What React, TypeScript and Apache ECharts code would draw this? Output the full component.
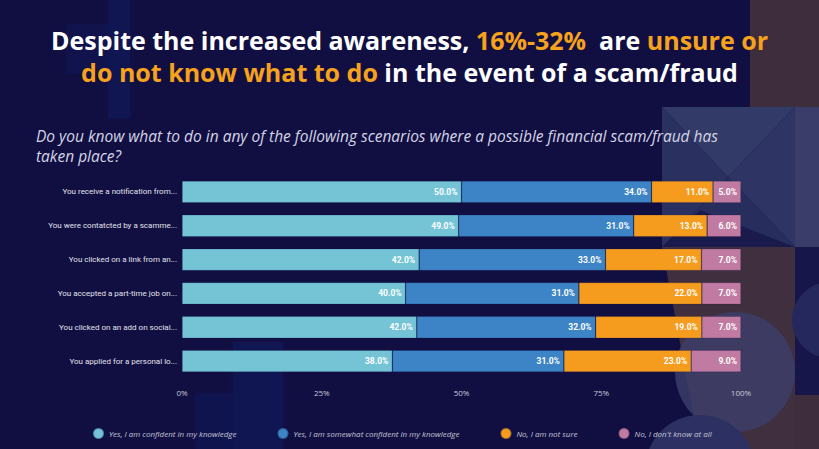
import React, { useEffect, useRef } from "react";
import * as echarts from "echarts";

const categories = [
  "You receive a notification from...",
  "You were contatcted by a scamme...",
  "You clicked on a link from an...",
  "You accepted a part-time job on...",
  "You clicked on an add on social...",
  "You applied for a personal lo...",
];
const seriesNames = [
  "Yes, I am confident in my knowledge",
  "Yes, I am somewhat confident in my knowledge",
  "No, I am not sure",
  "No, I don't know at all",
];
const confident = [50, 49, 42, 40, 42, 38];
const somewhat = [34, 31, 33, 31, 32, 31];
const notSure = [11, 13, 17, 22, 19, 23];
const dontKnow = [5, 6, 7, 7, 7, 9];
const colors = ["#74c4d6", "#3d84c6", "#f59c1e", "#c17ba2"];
const xTicks = [0, 25, 50, 75, 100];

export default function App() {
  const ref = useRef<HTMLDivElement>(null);
  useEffect(() => {
    if (!ref.current) return;
    const chart = echarts.init(ref.current, null, { renderer: "svg" });
    const values = [confident, somewhat, notSure, dontKnow];
    // 100% stacked: each row is scaled to its own total
    const totals = categories.map((_, j) => values.reduce((s, arr) => s + arr[j], 0));
    const series = values.map((v, i) => ({
      name: seriesNames[i],
      type: "bar",
      stack: "total",
      barWidth: 22,
      data: v.map((x, j) => (x / totals[j]) * 100),
      itemStyle: { color: colors[i], borderColor: "rgba(20,20,70,0.35)", borderWidth: 0.6 },
      label: {
        show: true,
        position: "insideRight",
        distance: 4,
        color: "#ffffff",
        fontSize: 8.5,
        fontWeight: "bold",
        fontFamily: "Roboto",
        formatter: (p: any) => values[p.seriesIndex][p.dataIndex].toFixed(1) + "%",
      },
    }));
    const tri = (pts: number[][], fill: string, z = -9) => ({ type: "polygon", z, silent: true, shape: { points: pts }, style: { fill } });
    chart.setOption({
      animation: false,
      backgroundColor: "#110f42",
      color: colors,
      graphic: [
        // faint blue blurred shapes on the left
        { type: "rect", z: -10, silent: true, shape: { x: 108, y: 0, width: 22, height: 118 }, style: { fill: "rgba(35,70,180,0.12)", shadowBlur: 14, shadowColor: "rgba(35,70,180,0.15)" } },
        { type: "rect", z: -10, silent: true, shape: { x: 66, y: 24, width: 42, height: 50 }, style: { fill: "rgba(35,70,180,0.08)", shadowBlur: 14, shadowColor: "rgba(35,70,180,0.1)" } },
        { type: "rect", z: -10, silent: true, shape: { x: 233, y: 342, width: 50, height: 107 }, style: { fill: "rgba(25,60,180,0.13)", shadowBlur: 14, shadowColor: "rgba(25,60,180,0.15)" } },
        { type: "rect", z: -10, silent: true, shape: { x: 195, y: 393, width: 38, height: 56 }, style: { fill: "rgba(25,60,180,0.1)", shadowBlur: 14, shadowColor: "rgba(25,60,180,0.12)" } },
        // right decorative panels
        { type: "rect", z: -10, silent: true, shape: { x: 750, y: 0, width: 69, height: 107 }, style: { fill: "#3e2d3d" } },
        tri([[662, 107], [795, 107], [728, 177]], "#323a68"),
        tri([[662, 107], [728, 177], [662, 247]], "#2a3160"),
        tri([[795, 107], [795, 247], [728, 177]], "#2e3564"),
        tri([[662, 247], [795, 247], [728, 177]], "#272d5c"),
        tri([[700, 210], [795, 247], [662, 247]], "#1a1a4c"),
        { type: "rect", z: -10, silent: true, shape: { x: 795, y: 107, width: 24, height: 140 }, style: { fill: "#3a3d6a" } },
        tri([[662, 247], [795, 247], [795, 449], [700, 449]], "#402f3f", -10),
        { type: "circle", z: -8, silent: true, shape: { cx: 735, cy: 372, r: 60 }, style: { fill: "#3c3f6b", opacity: 0.8 } },
        { type: "circle", z: -8, silent: true, shape: { cx: 700, cy: 470, r: 55 }, style: { fill: "#2c3062" } },
        { type: "rect", z: -10, silent: true, shape: { x: 795, y: 247, width: 24, height: 148 }, style: { fill: "#17164a" } },
        { type: "circle", z: -7, silent: true, shape: { cx: 830, cy: 320, r: 38 }, style: { fill: "#24285c" } },
        { type: "rect", z: -10, silent: true, shape: { x: 795, y: 395, width: 24, height: 54 }, style: { fill: "#3e2d3d" } },
        {
          type: "text",
          left: "center",
          top: 27,
          style: {
            text: "{w|Despite the increased awareness, }{o|16%-32%}{w|  are }{o|unsure or}",
            rich: {
              w: { fill: "#ffffff", fontSize: 25, fontWeight: "bold", fontFamily: "Open Sans" },
              o: { fill: "#f7a21b", fontSize: 25, fontWeight: "bold", fontFamily: "Open Sans" },
            },
          },
        },
        {
          type: "text",
          left: "center",
          top: 59,
          style: {
            text: "{o|do not know what to do}{w| in the event of a scam/fraud}",
            rich: {
              w: { fill: "#ffffff", fontSize: 25, fontWeight: "bold", fontFamily: "Open Sans" },
              o: { fill: "#f7a21b", fontSize: 25, fontWeight: "bold", fontFamily: "Open Sans" },
            },
          },
        },
        {
          type: "text",
          left: 36,
          top: 126,
          style: {
            text: "Do you know what to do in any of the following scenarios where a possible financial scam/fraud has\ntaken place?",
            fill: "#d4d4e4",
            fontSize: 15.5,
            fontStyle: "italic",
            fontFamily: "Open Sans",
            lineHeight: 20,
          },
        },
      ],
      legend: {
        top: 422,
        left: 87,
        icon: "circle",
        itemWidth: 11,
        itemHeight: 11,
        itemGap: 40,
        data: seriesNames,
        textStyle: { color: "#c4c4d4", fontSize: 8, fontStyle: "italic", fontFamily: "Open Sans" },
      },
      grid: { left: 182, right: 78, top: 175, bottom: 71, containLabel: false },
      xAxis: {
        type: "value",
        min: xTicks[0],
        max: xTicks[xTicks.length - 1],
        interval: 25,
        axisLine: { show: false },
        axisTick: { show: false },
        splitLine: { show: false },
        axisLabel: { color: "#c8c8d8", fontSize: 8, fontFamily: "Open Sans", formatter: "{value}%", margin: 10 },
      },
      yAxis: {
        type: "category",
        inverse: true,
        data: categories,
        axisLine: { show: false },
        axisTick: { show: false },
        axisLabel: { color: "#e2e2ea", fontSize: 8, fontFamily: "Roboto", margin: 5 },
      },
      series,
    });
    return () => chart.dispose();
  }, []);
  return <div ref={ref} style={{ position: "fixed", left: 0, top: 0, width: 819, height: 449 }} />;
}
